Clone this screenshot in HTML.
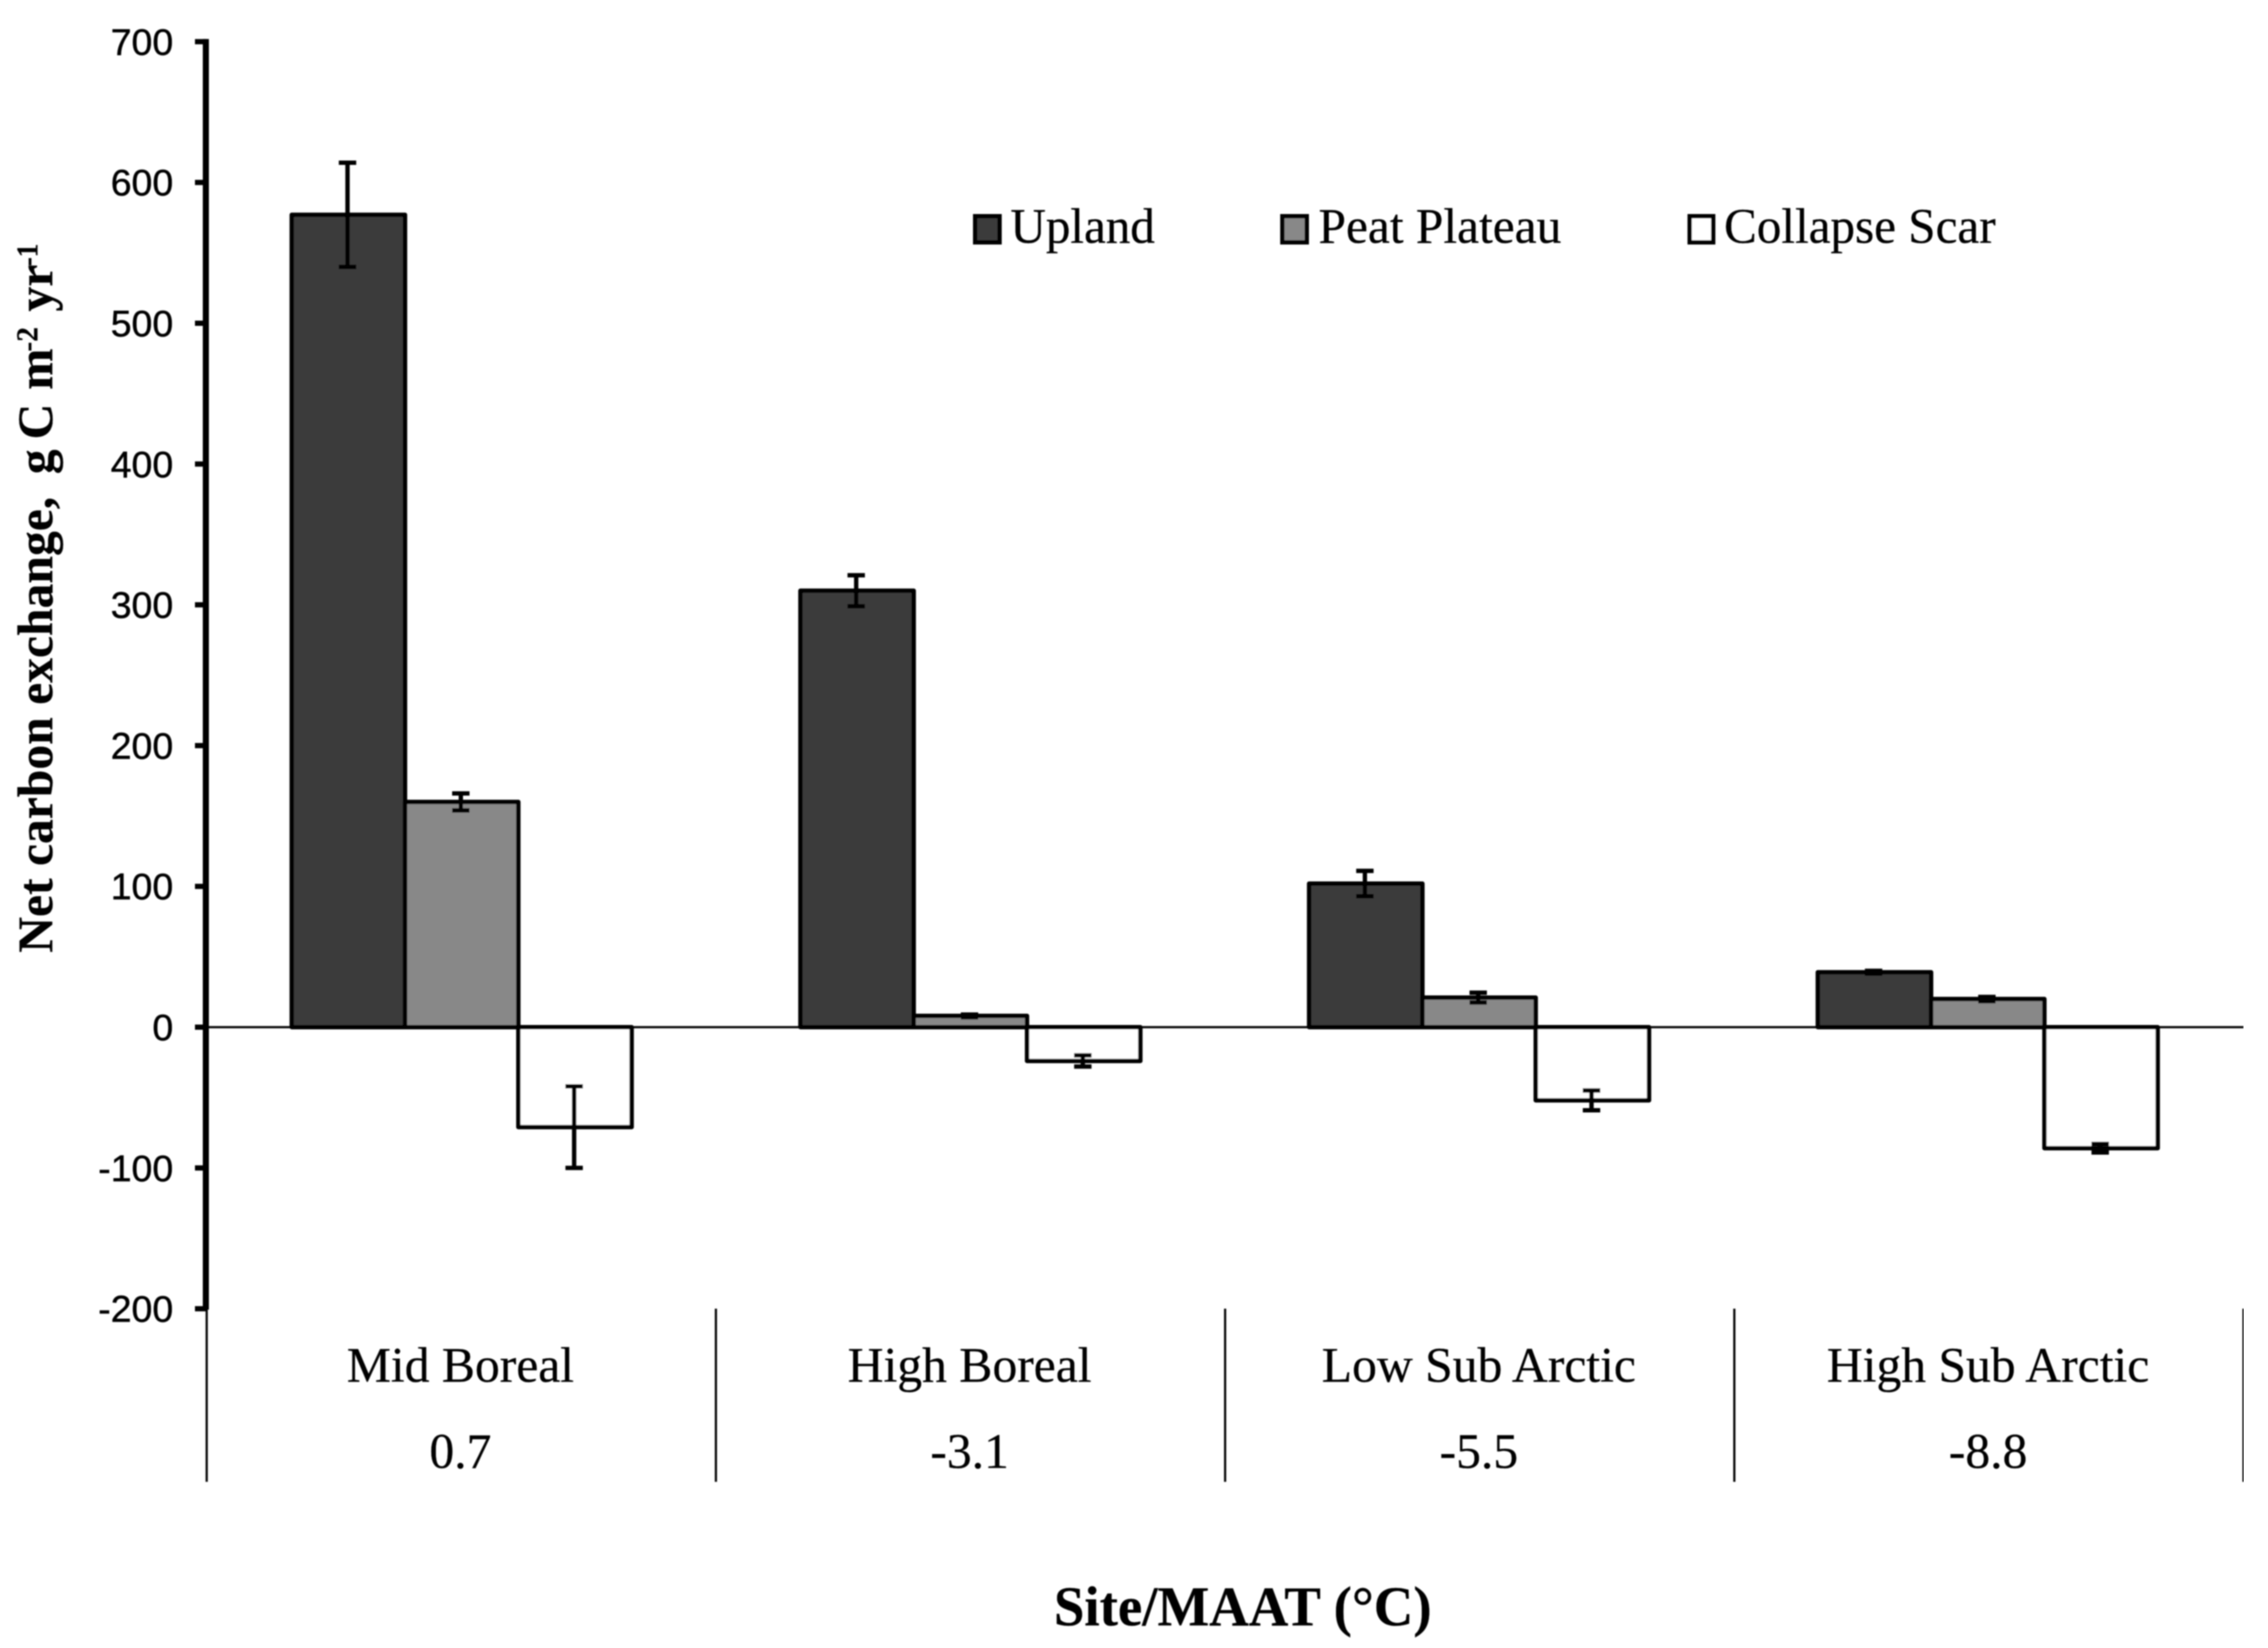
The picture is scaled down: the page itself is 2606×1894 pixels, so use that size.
<!DOCTYPE html>
<html lang="en">
<head>
<meta charset="utf-8">
<title>Net carbon exchange by site</title>
<style>
html,body{margin:0;padding:0;background:#fff;}
svg{display:block;}
.serif{font-family:"Liberation Serif",serif;fill:#000;stroke:#000;stroke-width:0.3;}
.sans{font-family:"Liberation Sans",sans-serif;fill:#000;stroke:#000;stroke-width:0.5;}
</style>
</head>
<body>
<svg id="chart" xmlns="http://www.w3.org/2000/svg" width="2606" height="1894" viewBox="0 0 2606 1894">
<defs><filter id="soft" x="0" y="0" width="100%" height="100%"><feGaussianBlur stdDeviation="0.7"/></filter></defs>
<rect x="0" y="0" width="2606" height="1894" fill="#fff"/>
<g id="root" filter="url(#soft)">
  <g id="bars"></g>
  <g id="axis"></g>
  <g id="cats"></g>

  <g>
    <g>
      <rect x="1120.5" y="248.5" width="28" height="30" fill="#3a3a3a" stroke="#000" stroke-width="5"/>
      <text class="serif" x="1161" y="279" font-size="57" textLength="166" lengthAdjust="spacingAndGlyphs">Upland</text>
    </g>
    <g>
      <rect x="1473.5" y="248.5" width="28" height="30" fill="#888" stroke="#000" stroke-width="5"/>
      <text class="serif" x="1515" y="279" font-size="57" textLength="279" lengthAdjust="spacingAndGlyphs">Peat Plateau</text>
    </g>
    <g>
      <rect x="1941.5" y="248.5" width="27" height="30" fill="#fff" stroke="#000" stroke-width="5"/>
      <text class="serif" x="1981" y="279" font-size="57" textLength="312" lengthAdjust="spacingAndGlyphs">Collapse Scar</text>
    </g>
  </g>

  <g transform="translate(60,1095) rotate(-90)">
    <text class="serif" font-weight="bold" font-size="57" x="0" y="0">Net carbon exchange,</text>
    <text class="serif" font-weight="bold" font-size="57" x="550" y="0">g</text>
    <text class="serif" font-weight="bold" font-size="57" x="590" y="0">C</text>
    <text class="serif" font-weight="bold" font-size="57" x="647" y="0">m</text>
    <text class="serif" font-weight="bold" font-size="35" x="691" y="-17" textLength="28" lengthAdjust="spacingAndGlyphs">-2</text>
    <text class="serif" font-weight="bold" font-size="57" x="737" y="0">yr</text>
    <text class="serif" font-weight="bold" font-size="35" x="789" y="-17" textLength="26" lengthAdjust="spacingAndGlyphs">-1</text>
  </g>

  <text class="serif" font-weight="bold" font-size="65" x="1211" y="1868" textLength="434" lengthAdjust="spacingAndGlyphs">Site/MAAT (°C)</text>
</g>
</svg>
<script>
const categories = ["Mid Boreal", "High Boreal", "Low Sub Arctic", "High Sub Arctic"];
const maatLabels = ["0.7", "-3.1", "-5.5", "-8.8"];
const seriesNames = ["upland", "peat-plateau", "collapse-scar"];
const upland = [577, 310, 102, 39];
const peatPlateau = [160, 8, 21, 20];
const collapseScar = [-71, -24, -52, -86];
const uplandErr = [37, 11, 9, 1];
const peatPlateauErr = [6, 1, 3.5, 1.5];
const collapseScarErr = [29, 4, 7, 3];
const yTicks = [700, 600, 500, 400, 300, 200, 100, 0, -100, -200];

const SVGNS = "http://www.w3.org/2000/svg";
const yZero = 1180.5, yPerUnit = 1.618;
const plotLeft = 237.5, bandWidth = 585.1, barStart = 335.2, barStep = 584.5, barWidth = 130.2;
function yScale(v) { return yZero - v * yPerUnit; }
function xBand(i) { return plotLeft + i * bandWidth; }
function xBar(i, s) { return barStart + i * barStep + s * barWidth; }
function mk(tag, attrs, parent) {
  const el = document.createElementNS(SVGNS, tag);
  for (const k in attrs) el.setAttribute(k, attrs[k]);
  parent.appendChild(el);
  return el;
}
const allValues = [upland, peatPlateau, collapseScar];
const allErrors = [uplandErr, peatPlateauErr, collapseScarErr];
const fills = ["#3a3a3a", "#888888", "#ffffff"];
const barsG = document.getElementById("bars");
const axisG = document.getElementById("axis");
const catsG = document.getElementById("cats");

// zero line
const zeroLine = mk("line", {x1: plotLeft, x2: xBand(categories.length), y1: yScale(0), y2: yScale(0), stroke: "#000", "stroke-width": 2.5}, barsG);



categories.forEach(function (cat, i) {
  allValues.forEach(function (vals, s) {
    const v = vals[i];
    const x = xBar(i, s);
    const top = Math.min(yScale(v), yScale(0));
    const h = Math.abs(yScale(v) - yScale(0));
    const bar = mk("rect", {x: x, y: top, width: barWidth, height: h, fill: fills[s], stroke: "#000", "stroke-width": 5, "stroke-linejoin": "round"}, barsG);
    
    
  });
});
categories.forEach(function (cat, i) {
  allValues.forEach(function (vals, s) {
    const v = vals[i], e = allErrors[s][i];
    const cx = xBar(i, s) + barWidth / 2 - 1;
    const g = mk("g", {stroke: "#000", "stroke-width": 5}, barsG);
    
    
    mk("line", {x1: cx, x2: cx, y1: yScale(v + e), y2: yScale(v - e)}, g);
    mk("line", {x1: cx - 10, x2: cx + 10, y1: yScale(v + e), y2: yScale(v + e)}, g);
    mk("line", {x1: cx - 10, x2: cx + 10, y1: yScale(v - e), y2: yScale(v - e)}, g);
  });
});

// y axis
const axisLine = mk("line", {x1: plotLeft - 1, x2: plotLeft - 1, y1: yScale(yTicks[0]) - 3, y2: yScale(yTicks[yTicks.length - 1]) + 1, stroke: "#000", "stroke-width": 7}, axisG);


yTicks.forEach(function (t) {
  const tick = mk("line", {x1: 224, x2: plotLeft, y1: yScale(t), y2: yScale(t), stroke: "#000", "stroke-width": 6}, axisG);
  
  
  const label = mk("text", {x: 199, y: yScale(t) + 15, "text-anchor": "end", "font-size": 43, class: "sans"}, axisG);
  
  
  label.textContent = String(t);
});

// category dividers and labels
for (let i = 0; i <= categories.length; i++) {
  const div = mk("line", {x1: xBand(i), x2: xBand(i), y1: 1504, y2: 1703, stroke: "#000", "stroke-width": 2.5}, catsG);
  
  
}
categories.forEach(function (cat, i) {
  const cx = xBand(i) + bandWidth / 2 - 1;
  const a = mk("text", {x: cx, y: 1588, "text-anchor": "middle", "font-size": 57, class: "serif"}, catsG);
  
  
  a.textContent = cat;
  const b = mk("text", {x: cx, y: 1687, "text-anchor": "middle", "font-size": 57, class: "serif"}, catsG);
  
  
  b.textContent = maatLabels[i];
});
</script>
</body>
</html>
